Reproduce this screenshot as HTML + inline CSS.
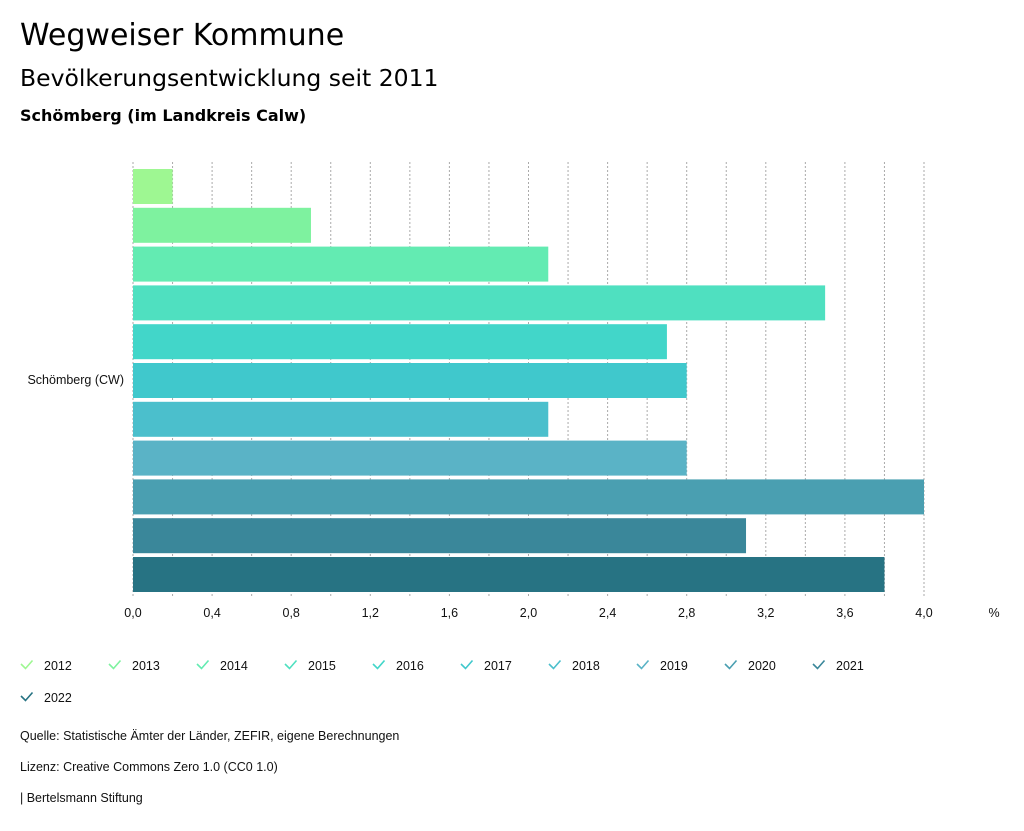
<!DOCTYPE html>
<html><head><meta charset="utf-8"><style>
body{margin:0;background:#fff;width:1024px;height:831px;overflow:hidden;font-family:"Liberation Sans",sans-serif;}
.t{position:absolute;left:20px;color:#000;font-family:"DejaVu Sans",sans-serif;white-space:nowrap}
.s{position:absolute;left:20px;font-size:12.5px;color:#111;white-space:nowrap}
</style></head><body>
<div class="t" style="top:18px;font-size:30px">Wegweiser Kommune</div>
<div class="t" style="top:64px;font-size:23.5px">Bevölkerungsentwicklung seit 2011</div>
<div class="t" style="top:106px;font-size:16px;font-weight:bold">Schömberg (im Landkreis Calw)</div>
<svg id="c" width="1024" height="831" style="position:absolute;left:0;top:0"></svg>
<div class="s" style="top:729px">Quelle: Statistische Ämter der Länder, ZEFIR, eigene Berechnungen</div>
<div class="s" style="top:760px">Lizenz: Creative Commons Zero 1.0 (CC0 1.0)</div>
<div class="s" style="top:791px">| Bertelsmann Stiftung</div>
<script>
const years=["2012","2013","2014","2015","2016","2017","2018","2019","2020","2021","2022"];
const values=[0.2,0.9,2.1,3.5,2.7,2.8,2.1,2.8,4.0,3.1,3.8];
const colors=["#9ef792","#7ef29f","#63ebb2","#4fe0c0","#42d6c9","#40c8cc","#4bbfcc","#5ab3c6","#4a9fb1","#3a879a","#277383"];
const tickLabels=["0,0","0,4","0,8","1,2","1,6","2,0","2,4","2,8","3,2","3,6","4,0"];
const tickValues=[0,0.4,0.8,1.2,1.6,2.0,2.4,2.8,3.2,3.6,4.0];
const NS="http://www.w3.org/2000/svg",svg=document.getElementById('c');
const x=v=>133+v*197.75;
const y=i=>169+i*38.8;
function mk(t,a){const e=document.createElementNS(NS,t);for(const k in a)e.setAttribute(k,a[k]);svg.appendChild(e);return e;}
for(let k=0;k<=20;k++){const v=k*0.2;
 const g=mk('line',{x1:x(v),x2:x(v),y1:162,y2:597,stroke:'#aaa','stroke-dasharray':'2,2','stroke-width':1});
 
 }
tickValues.forEach((v,i)=>{const t=mk('text',{x:x(v),y:617,'text-anchor':'middle','font-size':12.5,fill:'#111'});t.textContent=tickLabels[i];
 
 });
const u=mk('text',{x:994,y:617,'text-anchor':'middle','font-size':12.5,fill:'#111'});u.textContent='%';


const cl=mk('text',{x:124,y:384,'text-anchor':'end','font-size':12.5,fill:'#111'});cl.textContent='Schömberg (CW)';


values.forEach((v,i)=>{const r=mk('rect',{x:x(0),y:y(i),width:x(v)-x(0),height:35,fill:colors[i]});
 
 });
years.forEach((yr,i)=>{const col=i%11===10?0:i,row=i<10?0:1;const lx=20+col*88,ly=665+row*32;
 const p=mk('path',{d:`M${lx+1} ${ly-1} l4.5 4.5 l7 -8`,fill:'none',stroke:colors[i],'stroke-width':1.6});
 
 
 const t=mk('text',{x:lx+24,y:ly+5,'font-size':12.5,fill:'#111'});t.textContent=yr;
 
 });
</script>
</body></html>
